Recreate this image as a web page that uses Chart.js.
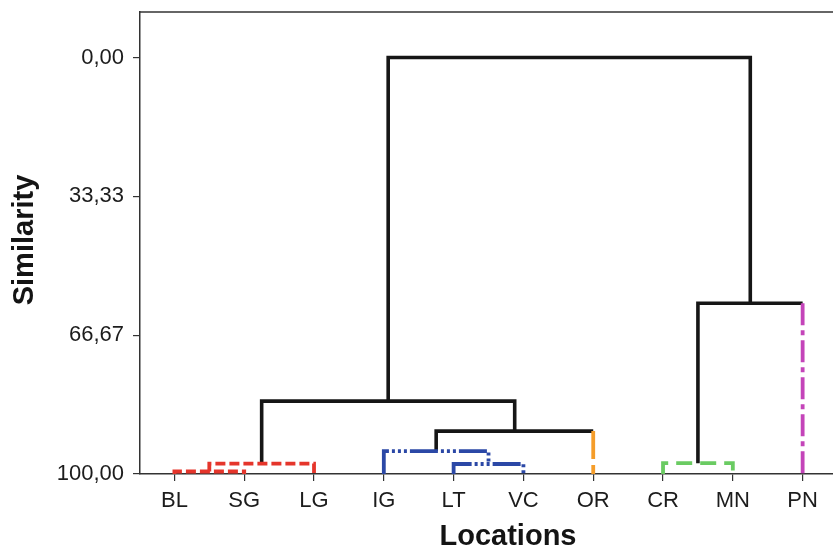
<!DOCTYPE html>
<html>
<head>
<meta charset="utf-8">
<title>Dendrogram - Locations</title>
<script src="https://cdn.jsdelivr.net/npm/chart.js@4.4.1/dist/chart.umd.min.js"></script>
<style>
  html, body { margin: 0; padding: 0; background: #fff; }
  canvas { display: block; }
</style>
</head>
<body>
<canvas id="dendrocanvas" width="833" height="548"></canvas>
<script>
// leaves, left to right, and the cluster colour of each one
const locations = ['BL', 'SG', 'LG', 'IG', 'LT', 'VC', 'OR', 'CR', 'MN', 'PN'];
const leafGroup = ['red', 'red', 'red', 'blue', 'blue', 'blue', 'orange', 'green', 'green', 'magenta'];

// linkage: node (10 + i) joins mergeA[i] with mergeB[i] at similarity mergeHeight[i]
const mergeA = [0, 10, 4, 3, 7, 13, 11, 14, 16];
const mergeB = [1, 2, 5, 12, 8, 6, 15, 9, 17];
const mergeHeight = [99.4, 97.5, 97.6, 94.5, 97.4, 89.7, 82.5, 59.0, 0.0];
const mergeGroup = ['red', 'red', 'blue', 'blue', 'green', 'black', 'black', 'black', 'black'];

const yTicks = [0, 33.33, 66.67, 100];

const groupStyle = {
    black:   { color: '#161616', dash: [] },
    red:     { color: '#e5352b', dash: [10, 4] },
    blue:    { color: '#2b48a6', dash: [28, 3, 3, 3, 3, 3, 3, 3] },
    orange:  { color: '#f59d2a', dash: [28, 6] },
    green:   { color: '#6acb62', dash: [16, 8] },
    magenta: { color: '#c444b9', dash: [22, 5, 5, 5] }
};

// x and height of every node (leaves sit on the 100 line)
let nodeX = locations.map(function(l, i) { return i; });
let nodeH = locations.map(function() { return 100; });
mergeA.forEach(function(a, i) {
    let b = mergeB[i];
    nodeX.push((nodeX[a] + nodeX[b]) / 2);
    nodeH.push(mergeHeight[i]);
});

function legGroup(child, parentGroup) {
    return child < locations.length ? leafGroup[child] : parentGroup;
}

// every merge is a U shape: leg down to A, bar, leg down to B
let datasets = [];
mergeA.forEach(function(a, i) {
    let b = mergeB[i];
    let h = mergeHeight[i];
    let g = mergeGroup[i];
    let segs = [
        { pts: [{ x: nodeX[a], y: nodeH[a] }, { x: nodeX[a], y: h }], group: legGroup(a, g) },
        { pts: [{ x: nodeX[a], y: h }, { x: nodeX[b], y: h }], group: g },
        { pts: [{ x: nodeX[b], y: h }, { x: nodeX[b], y: nodeH[b] }], group: legGroup(b, g) }
    ];
    // join neighbouring pieces of the same colour into one path
    let pieces = [];
    segs.forEach(function(s) {
        let last = pieces[pieces.length - 1];
        if (last && last.group === s.group) {
            last.pts.push(s.pts[1]);
        } else {
            pieces.push({ pts: s.pts.slice(), group: s.group });
        }
    });
    pieces.forEach(function(p) {
        let st = groupStyle[p.group];
        datasets.push({
            data: p.pts,
            borderColor: st.color,
            borderDash: st.dash,
            borderWidth: p.group === 'black' ? 3.6 : 3.8,
            borderCapStyle: 'butt',
            borderJoinStyle: 'miter',
            pointRadius: 0,
            fill: false,
            tension: 0,
            showLine: true,
            order: p.group === 'black' ? 1 : 0
        });
    });
});

const frameAndTitles = {
    id: 'frameAndTitles',
    afterDraw(chart) {
        let ctx = chart.ctx;
        let area = chart.chartArea;
        ctx.save();
        ctx.strokeStyle = '#333';
        ctx.lineWidth = 1.5;
        ctx.beginPath();
        ctx.moveTo(area.left, area.top);
        ctx.lineTo(chart.width, area.top);
        ctx.stroke();

        ctx.fillStyle = '#141414';
        ctx.font = 'bold 29px "Liberation Sans", Arial, sans-serif';
        ctx.textAlign = 'center';
        ctx.textBaseline = 'middle';
        ctx.fillText('Locations', 508, 537);
        ctx.translate(25, 240);
        ctx.rotate(-Math.PI / 2);
        ctx.fillText('Similarity', 0, 0);
        ctx.restore();
    }
};

let tickFont = { family: '"Liberation Sans", Arial, sans-serif', size: 22 };

let Canvas = document.getElementById('dendrocanvas').getContext('2d');
let dendroChart = new Chart(Canvas, {
    type: 'scatter',
    data: { datasets: datasets },
    options: {
        responsive: false,
        animation: false,
        layout: { padding: { top: 12, right: 0, bottom: 0, left: 0 } },
        plugins: {
            legend: { display: false },
            tooltip: { enabled: false }
        },
        scales: {
            x: {
                type: 'linear',
                min: -0.493,
                max: 9.435,
                afterBuildTicks: function(scale) {
                    scale.ticks = locations.map(function(l, i) { return { value: i }; });
                },
                afterFit: function(scale) {
                    scale.height = 74;
                    scale.paddingLeft = 0;
                    scale.paddingRight = 0;
                },
                ticks: {
                    autoSkip: false,
                    maxRotation: 0,
                    color: '#1c1c1c',
                    font: tickFont,
                    padding: 7,
                    callback: function(v) { return locations[v]; }
                },
                grid: { drawOnChartArea: false, drawTicks: true, tickLength: 7, color: '#333', lineWidth: 1.2 },
                border: { display: true, color: '#333', width: 1.5 }
            },
            y: {
                type: 'linear',
                reverse: true,
                min: -10.92,
                max: 100,
                afterBuildTicks: function(scale) {
                    scale.ticks = yTicks.map(function(v) { return { value: v }; });
                },
                afterFit: function(scale) {
                    scale.width = 140;
                    scale.paddingTop = 0;
                    scale.paddingBottom = 0;
                },
                ticks: {
                    color: '#1c1c1c',
                    font: tickFont,
                    padding: 9,
                    callback: function(v) { return v.toFixed(2).replace('.', ','); }
                },
                grid: { drawOnChartArea: false, drawTicks: true, tickLength: 7, color: '#333', lineWidth: 1.2 },
                border: { display: true, color: '#333', width: 1.5 }
            }
        }
    },
    plugins: [frameAndTitles]
});
</script>
</body>
</html>
